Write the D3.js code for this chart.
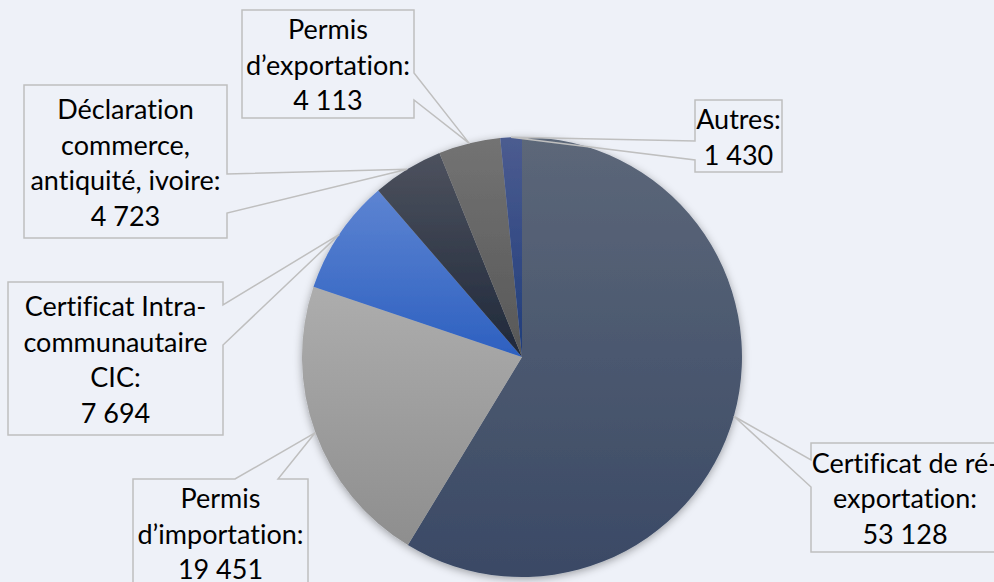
<!DOCTYPE html>
<html>
<head>
<meta charset="utf-8">
<script src="https://cdn.jsdelivr.net/npm/d3@7"></script>
<style>
    html, body { margin: 0; padding: 0; background: #eef1f8; overflow: hidden; }
    svg { display: block; }
    .lbl text { font-family: Lato, "Open Sans", sans-serif; font-size: 27px; fill: #000;
        font-variant-ligatures: none; font-feature-settings: "liga" 0; }
</style>
</head>
<body>
<div class="chart"></div>
<script>
// data
const categories = [
    "Certificat de ré-\nexportation",
    "Permis\nd’importation",
    "Certificat Intra-\ncommunautaire\nCIC",
    "Déclaration\ncommerce,\nantiquité, ivoire",
    "Permis\nd’exportation",
    "Autres"
];
const values = [53128, 19451, 7694, 4723, 4113, 1430];

// top -> bottom gradient for each slice
const colorsTop = ["#5c6779", "#adadad", "#5d84d2", "#4d525e", "#737373", "#4c5c90"];
const colorsBottom = ["#3a4965", "#8e8e8e", "#2d60c0", "#1f283a", "#575757", "#1f3c7a"];

// callout boxes: x, y, w, h, side of the pointer, pointer base (offsets along that side)
const boxes = [
    { x: 811, y: 443, w: 188, h: 109, side: "left", b0: 17, b1: 44 },
    { x: 133, y: 479, w: 175, h: 108, side: "top", b0: 102, b1: 145 },
    { x: 8, y: 282, w: 215, h: 153, side: "right", b0: 23, b1: 63 },
    { x: 24, y: 85, w: 203, h: 153, side: "right", b0: 89, b1: 128 },
    { x: 242, y: 10, w: 172, h: 108, side: "right", b0: 63, b1: 90 },
    { x: 695, y: 100, w: 87, h: 72, side: "left", b0: 41, b1: 60 }
];

const width = 994;
const height = 582;
const cx = 522, cy = 357, radius = 220;
const lineH = 35.5;

const fmt = d3.formatLocale({ decimal: ",", thousands: " ", grouping: [3], currency: ["", "€"] }).format(",d");

const svg = d3.select('.chart').append('svg')
    .attr('width', width).attr('height', height);

const defs = svg.append('defs');

const shadow = defs.append('filter').attr('id', 'shadow')
    .attr('x', '-20%').attr('y', '-20%').attr('width', '140%').attr('height', '140%');
shadow.append('feDropShadow').attr('dx', 0).attr('dy', 2)
    .attr('stdDeviation', 4).attr('flood-color', '#000').attr('flood-opacity', 0.35);

values.forEach((v, i) => {
    const g = defs.append('linearGradient').attr('id', 'grad' + i)
        .attr('x1', 0).attr('y1', 0).attr('x2', 0).attr('y2', 1);
    g.append('stop').attr('offset', '0%').attr('stop-color', colorsTop[i]);
    g.append('stop').attr('offset', '100%').attr('stop-color', colorsBottom[i]);
});

const pie = d3.pie().sort(null).value(d => d.value);
const arcs = pie(values.map((v, i) => ({ name: categories[i], value: v, i: i })));

const arc = d3.arc().innerRadius(0).outerRadius(radius);
const edge = d3.arc().innerRadius(radius).outerRadius(radius);

const pieG = svg.append('g')
    .attr('transform', `translate(${cx},${cy})`)
    .attr('filter', 'url(#shadow)');

pieG.selectAll('path').data(arcs).join('path')
    .attr('d', arc)
    .attr('fill', d => `url(#grad${d.data.i})`);

// callout shape: box with a wedge pointing to the slice edge
function callout(b, tip) {
    const x0 = b.x, y0 = b.y, x1 = b.x + b.w, y1 = b.y + b.h;
    const t = `${tip[0]},${tip[1]}`;
    if (b.side === "left")
        return `M${x0},${y0}L${x1},${y0}L${x1},${y1}L${x0},${y1}L${x0},${y0 + b.b1}L${t}L${x0},${y0 + b.b0}Z`;
    if (b.side === "right")
        return `M${x0},${y0}L${x1},${y0}L${x1},${y0 + b.b0}L${t}L${x1},${y0 + b.b1}L${x1},${y1}L${x0},${y1}Z`;
    // top
    return `M${x0},${y0}L${x0 + b.b0},${y0}L${t}L${x0 + b.b1},${y0}L${x1},${y0}L${x1},${y1}L${x0},${y1}Z`;
}

const labels = svg.append('g').attr('class', 'lbl')
    .selectAll('g').data(arcs).join('g');

labels.append('path')
    .attr('d', d => {
        const c = edge.centroid(d);
        return callout(boxes[d.data.i], [cx + c[0], cy + c[1]]);
    })
    .attr('fill', 'none')
    .attr('stroke', '#bfbfbf')
    .attr('stroke-width', 1.5);

labels.each(function (d) {
    const b = boxes[d.data.i];
    const lines = d.data.name.split("\n");
    lines[lines.length - 1] += ":";
    lines.push(fmt(d.value));
    const top = b.y + (b.h - lines.length * lineH) / 2 + 28.5;
    d3.select(this).append('text')
        .attr('text-anchor', 'middle')
        .selectAll('tspan').data(lines).join('tspan')
        .attr('x', b.x + b.w / 2)
        .attr('y', (l, k) => top + k * lineH)
        .text(l => l);
});
</script>
</body>
</html>
